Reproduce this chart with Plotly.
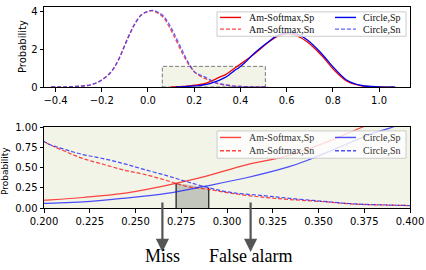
import plotly.graph_objects as go

# ---------------- data ----------------
AM_SP_X = [0.10, 0.15, 0.20, 0.2214, 0.2433, 0.267, 0.2882, 0.310, 0.334, 0.354, 0.3742,
           0.40, 0.46, 0.52, 0.56, 0.60, 0.64, 0.69, 0.75, 0.81, 0.865, 0.925, 1.0, 1.06]
AM_SP_Y = [0.0, 0.03, 0.096, 0.13, 0.18, 0.28, 0.39, 0.53, 0.65, 0.81, 1.0,
           1.22, 1.76, 2.37, 2.7, 2.83, 2.75, 2.4, 1.7, 0.85, 0.28, 0.06, 0.005, 0.0]

CIRCLE_SP_X = [0.12, 0.16, 0.20, 0.2214, 0.2433, 0.267, 0.2882, 0.310, 0.334, 0.344, 0.355,
               0.3697, 0.3807, 0.3907, 0.42, 0.46, 0.52, 0.56, 0.61, 0.65, 0.69, 0.75, 0.81,
               0.865, 0.925, 1.0, 1.07]
CIRCLE_SP_Y = [0.0, 0.02, 0.057, 0.076, 0.12, 0.18, 0.27, 0.37, 0.51, 0.59, 0.69,
               0.83, 0.93, 1.0, 1.3, 1.8, 2.4, 2.75, 2.9, 2.8, 2.5, 1.8, 0.95,
               0.33, 0.08, 0.008, 0.0]

SN_X = [-0.42, -0.35, -0.30, -0.248, -0.204, -0.16, -0.13, -0.088, -0.06, -0.03, 0.0, 0.02,
        0.045, 0.07, 0.09, 0.113, 0.15, 0.175, 0.20, 0.2104, 0.2214, 0.2323, 0.2433, 0.254,
        0.267, 0.2773, 0.290, 0.3028, 0.321, 0.334, 0.3514, 0.3697, 0.388, 0.40, 0.45, 0.52]
AM_SN_Y = [0.0, 0.01, 0.04, 0.12, 0.35, 0.81, 1.41, 2.6, 3.3, 3.83, 4.02, 4.06,
           3.92, 3.66, 3.25, 2.7, 1.76, 1.22, 0.82, 0.71, 0.61, 0.54, 0.47, 0.42,
           0.34, 0.27, 0.23, 0.18, 0.13, 0.105, 0.08, 0.048, 0.036, 0.03, 0.01, 0.0]
CIRCLE_SN_Y = [0.0, 0.01, 0.04, 0.12, 0.34, 0.79, 1.38, 2.56, 3.28, 3.82, 4.03, 4.08,
               3.97, 3.74, 3.38, 2.85, 1.9, 1.3, 0.82, 0.73, 0.66, 0.61, 0.55, 0.48,
               0.40, 0.33, 0.25, 0.19, 0.15, 0.12, 0.085, 0.05, 0.037, 0.03, 0.01, 0.0]

SHADE_X = [0.2722, 0.290]
SHADE_TOP = [0.31, 0.25]
ZOOM_BOX_X = [0.062, 0.508]
ZOOM_BOX_Y = [0.0, 1.1]

TOP_XTICKS = [-0.4, -0.2, 0.0, 0.2, 0.4, 0.6, 0.8, 1.0]
TOP_XLABELS = ["\u22120.4", "\u22120.2", "0.0", "0.2", "0.4", "0.6", "0.8", "1.0"]
TOP_YTICKS = [0, 2, 4]
BOT_XTICKS = [0.2, 0.225, 0.25, 0.275, 0.3, 0.325, 0.35, 0.375, 0.4]
BOT_XLABELS = ["0.200", "0.225", "0.250", "0.275", "0.300", "0.325", "0.350", "0.375", "0.400"]
BOT_YTICKS = [0, 0.25, 0.5, 0.75, 1.0]
BOT_YLABELS = ["0.00", "0.25", "0.50", "0.75", "1.00"]

NAMES = ["Am-Softmax,Sp", "Am-Softmax,Sn", "Circle,Sp", "Circle,Sn"]
MISS_X = 0.2647
FALSE_ALARM_X = 0.3129

# ---------------- layout helpers ----------------
W, H = 426, 270
ML, MR, MT, MB = 44, 16, 2, 62
PW, PH = W - ML - MR, H - MT - MB


def px2x(px):
    return (px - ML) / PW


def py2y(py):
    return (H - MB - py) / PH


BG = "#f1f4e7"
TOP_COLORS = ["rgb(240,0,0)", "rgba(255,40,40,0.85)", "rgb(0,0,240)", "rgba(60,60,255,0.8)"]
BOT_COLORS = ["rgba(255,20,20,0.8)", "rgba(255,20,20,0.8)", "rgba(20,20,255,0.75)", "rgba(20,20,255,0.75)"]
DASHES = ["solid", "4px,2px", "solid", "4px,2px"]

fig = go.Figure()

series = [(AM_SP_X, AM_SP_Y), (SN_X, AM_SN_Y), (CIRCLE_SP_X, CIRCLE_SP_Y), (SN_X, CIRCLE_SN_Y)]

# shaded region (bottom)
fig.add_trace(go.Scatter(
    x=[SHADE_X[0], SHADE_X[0], SHADE_X[1], SHADE_X[1]],
    y=[0, SHADE_TOP[0], SHADE_TOP[1], 0],
    fill="toself", fillcolor="rgba(150,152,145,0.5)", line=dict(width=0),
    mode="lines", xaxis="x2", yaxis="y2", showlegend=False, hoverinfo="skip"))
fig.add_trace(go.Scatter(
    x=[SHADE_X[0], SHADE_X[0], None, SHADE_X[1], SHADE_X[1]],
    y=[0, SHADE_TOP[0], None, 0, SHADE_TOP[1]],
    mode="lines", line=dict(color="#333333", width=1.4),
    xaxis="x2", yaxis="y2", showlegend=False, hoverinfo="skip"))

for i, (xs, ys) in enumerate(series):
    fig.add_trace(go.Scatter(x=xs, y=ys, mode="lines", name=NAMES[i],
                             line=dict(color=TOP_COLORS[i], width=1.3, dash=DASHES[i], shape="spline"),
                             xaxis="x", yaxis="y", showlegend=False))
    fig.add_trace(go.Scatter(x=xs, y=ys, mode="lines", name=NAMES[i],
                             line=dict(color=BOT_COLORS[i], width=1.2, dash=DASHES[i], shape="spline"),
                             xaxis="x2", yaxis="y2", showlegend=False))

shapes = [
    dict(type="rect", xref="x", yref="y", x0=ZOOM_BOX_X[0], x1=ZOOM_BOX_X[1],
         y0=ZOOM_BOX_Y[0], y1=ZOOM_BOX_Y[1], fillcolor=BG,
         line=dict(color="#7a7a7a", width=1, dash="4px,2px"), layer="below"),
    dict(type="rect", xref="x2 domain", yref="y2 domain", x0=0, x1=1, y0=0, y1=1,
         fillcolor=BG, line=dict(width=0), layer="below"),
]
annotations = []

LEG_TEXT_FONT = dict(family="Liberation Serif, Times New Roman, serif", size=10, color="#111111")


def add_legend(box_top, box_bot, row1, row2, colors, text_color):
    shapes.append(dict(type="rect", xref="paper", yref="paper",
                       x0=px2x(217), x1=px2x(406), y0=py2y(box_bot), y1=py2y(box_top),
                       fillcolor="rgba(255,255,255,0.8)", line=dict(color="#cccccc", width=1),
                       layer="above"))
    slots = [(220, 241, 249, row1), (220, 241, 249, row2), (335, 356, 363, row1), (335, 356, 363, row2)]
    for i, (s0, s1, tx, ry) in enumerate(slots):
        shapes.append(dict(type="line", xref="paper", yref="paper",
                           x0=px2x(s0), x1=px2x(s1), y0=py2y(ry), y1=py2y(ry),
                           line=dict(color=colors[i], width=1.4, dash=DASHES[i]), layer="above"))
        annotations.append(dict(xref="paper", yref="paper", x=px2x(tx - 2), y=py2y(ry),
                                xanchor="left", yanchor="middle", text=NAMES[i], showarrow=False,
                                font=dict(LEG_TEXT_FONT, color=text_color)))


add_legend(7, 32, 12.7, 24.7, TOP_COLORS, "#111111")
add_legend(129, 157, 135.7, 149.3, BOT_COLORS, "#333333")

annotations.append(dict(xref="paper", yref="paper", x=px2x(22), y=py2y(43), text="Probability",
                        textangle=-90, showarrow=False, xanchor="center", yanchor="middle",
                        font=dict(family="DejaVu Sans", size=10, color="black")))
annotations.append(dict(xref="paper", yref="paper", x=px2x(5), y=py2y(170), text="Probability",
                        textangle=-90, showarrow=False, xanchor="center", yanchor="middle",
                        font=dict(family="DejaVu Sans", size=9, color="black")))

for xv, label in [(MISS_X, "Miss"), (FALSE_ALARM_X, "False alarm")]:
    annotations.append(dict(xref="x2", yref="paper", x=xv, y=py2y(253), ax=0, ay=-51,
                            axref="pixel", ayref="pixel", text="", showarrow=True,
                            arrowhead=2, arrowsize=1.2, arrowwidth=2.2, arrowcolor="#555555",
                            standoff=0, startstandoff=0))
    annotations.append(dict(xref="x2", yref="paper", x=xv, y=py2y(257.5), text=label,
                            showarrow=False, xanchor="center", yanchor="middle",
                            font=dict(family="Liberation Serif, Times New Roman, serif", size=18,
                                      color="black")))

axis_common = dict(showline=True, mirror=True, linecolor="black", linewidth=1,
                   ticks="outside", ticklen=3.5, tickwidth=1, tickcolor="black",
                   showgrid=False, zeroline=False,
                   tickfont=dict(family="DejaVu Sans", size=10, color="black"))

fig.update_layout(
    width=W, height=H,
    margin=dict(l=ML, r=MR, t=MT, b=MB),
    paper_bgcolor="white", plot_bgcolor="white",
    showlegend=False,
    xaxis=dict(axis_common, domain=[0, 1], anchor="y", range=[-0.45, 1.134],
               tickvals=TOP_XTICKS, ticktext=TOP_XLABELS),
    yaxis=dict(axis_common, domain=[py2y(84), 1], anchor="x", range=[0, 4.26],
               tickvals=TOP_YTICKS),
    xaxis2=dict(axis_common, domain=[0, 1], anchor="y2", range=[0.2, 0.4],
                tickvals=BOT_XTICKS, ticktext=BOT_XLABELS),
    yaxis2=dict(axis_common, domain=[0, py2y(125)], anchor="x2", range=[0, 1.0],
                tickvals=BOT_YTICKS, ticktext=BOT_YLABELS),
    shapes=shapes,
    annotations=annotations,
)

fig.write_html("out.html", config={"displayModeBar": False},
               post_script="document.body.style.margin='0px';")
